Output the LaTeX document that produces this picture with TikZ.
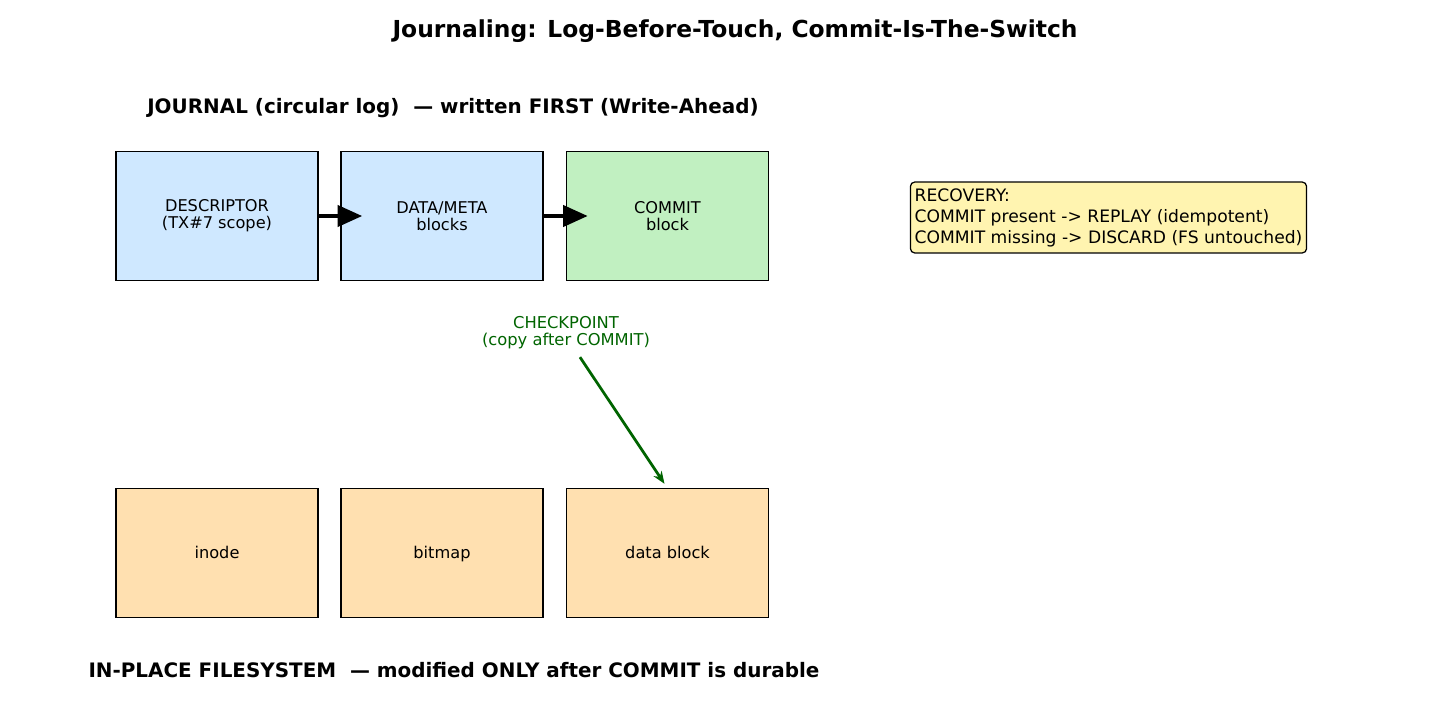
\documentclass[tikz,border=0pt]{standalone}
\usepackage{fontspec}
\setmainfont{DejaVu Sans}
\usetikzlibrary{arrows.meta,calc}
\definecolor{journalblue}{HTML}{CFE8FF}
\definecolor{commitgreen}{HTML}{C1F0C1}
\definecolor{fsorange}{HTML}{FFE0B0}
\definecolor{notepaper}{HTML}{FFF4B0}
\definecolor{ckptgreen}{HTML}{006400}

\begin{document}
\begin{tikzpicture}[x=0.0254cm,y=-0.0254cm,
    blockbox/.style={draw,line width=0.9pt,minimum width=5.13cm,minimum height=3.28cm,
        align=center,font=\fontsize{11.7}{12.3}\selectfont},
    heading/.style={font=\fontsize{14.4}{17}\selectfont\bfseries},
    flowarrow/.style={line width=3.6pt,-{Triangle[length=18pt,width=15pt]}}]
            \useasboundingbox (0,0) rectangle (1430,715);
            % Title
            \node[font=\fontsize{16.9}{20}\selectfont\bfseries] (title) at (735,31) {Journaling: Log-Before-Touch, Commit-Is-The-Switch};
            
            % Journal row
            \node[heading] (jlabel) at (453,108) {JOURNAL (circular log)\ \ --- written FIRST (Write-Ahead)};
            \node[blockbox,fill=journalblue] (desc) at (217,216) {DESCRIPTOR\\(TX\#7 scope)};
            \node[blockbox,fill=journalblue] (data) at (442,216) {DATA/META\\blocks};
            \node[blockbox,fill=commitgreen] (commit) at (667.5,216) {COMMIT\\block};
            \draw[flowarrow] (desc.east) -- ($(data.west)+(22,0)$);
            \draw[flowarrow] (data.east) -- ($(commit.west)+(22,0)$);
            
            % Filesystem row
            \foreach \x/\name/\label in {217/inode/inode,442/bitmap/bitmap,667.5/datab/data block} {
                \node[blockbox,fill=fsorange] (\name) at (\x,553) {\vphantom{I}\smash{\label}};
            }
            \node[heading] (fslabel) at (454,670) {IN-PLACE FILESYSTEM\ \ --- modified ONLY after COMMIT is durable};
            
            % Checkpoint
            \node[text=ckptgreen,align=center,font=\fontsize{11.8}{12.3}\selectfont] (ckpt) at (566,333) {CHECKPOINT\\(copy after COMMIT)};
            \draw[ckptgreen,line width=2pt,-{Stealth[length=9pt,width=7pt]}] ($(ckpt.south)+(14,3)$) -- ($(datab.north)+(-3,-4)$);
            
            % Recovery note
            \node[draw,line width=0.9pt,fill=notepaper,rounded corners=3pt,align=left,inner xsep=3pt,inner ysep=4.5pt,
                font=\fontsize{12.4}{15.2}\selectfont] (recovery) at (1108.5,217.5)
                {RECOVERY:\\COMMIT present -> REPLAY (idempotent)\\COMMIT missing -> DISCARD (FS untouched)};
        \end{tikzpicture}
\end{document}
